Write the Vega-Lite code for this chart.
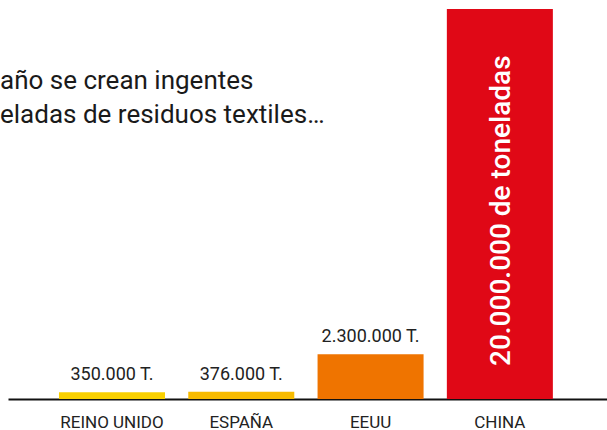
{
  "$schema": "https://vega.github.io/schema/vega-lite/v6.json",
  "width": 599,
  "height": 390,
  "autosize": {"type": "none"},
  "padding": {"left": 8, "right": 0, "top": 9, "bottom": 31},
  "background": "white",
  "config": {"view": {"stroke": null}, "font": "Roboto"},
  "data": {
    "values": [
      {"pais": "REINO UNIDO", "toneladas": 350000, "etiqueta": "350.000 T."},
      {"pais": "ESPAÑA", "toneladas": 376000, "etiqueta": "376.000 T."},
      {"pais": "EEUU", "toneladas": 2300000, "etiqueta": "2.300.000 T."},
      {"pais": "CHINA", "toneladas": 20000000, "etiqueta": "20.000.000 de toneladas"}
    ]
  },
  "encoding": {
    "x": {
      "field": "pais",
      "type": "nominal",
      "sort": null,
      "scale": {"domain": ["REINO UNIDO", "ESPAÑA", "EEUU", "CHINA"], "paddingInner": 0.18, "paddingOuter": 0.4065, "align": 0.485},
      "axis": {
        "title": null,
        "ticks": false,
        "grid": false,
        "labelAngle": 0,
        "labelFontSize": 17,
        "labelColor": "#222222",
        "labelPadding": 15,
        "labelFont": "Roboto",
        "domainColor": "#111111",
        "domainWidth": 2
      }
    }
  },
  "layer": [
    {
      "mark": {"type": "bar"},
      "encoding": {
        "y": {"field": "toneladas", "type": "quantitative", "scale": {"domain": [0, 20000000], "nice": false}, "axis": null},
        "color": {
          "field": "pais",
          "type": "nominal",
          "scale": {"domain": ["REINO UNIDO", "ESPAÑA", "EEUU", "CHINA"], "range": ["#f9d000", "#f7bb00", "#ef7400", "#e00816"]},
          "legend": null
        }
      }
    },
    {
      "transform": [{"filter": "datum.pais !== 'CHINA'"}],
      "mark": {"type": "text", "baseline": "alphabetic", "dy": -12, "fontSize": 18, "color": "#222222", "font": "Roboto"},
      "encoding": {
        "y": {"field": "toneladas", "type": "quantitative"},
        "text": {"field": "etiqueta", "type": "nominal"}
      }
    },
    {
      "transform": [{"filter": "datum.pais === 'CHINA'"}],
      "mark": {"type": "text", "angle": 270, "align": "left", "baseline": "middle", "dx": 33, "dy": 2, "fontSize": 28, "fontWeight": 500, "color": "white", "font": "Roboto"},
      "encoding": {
        "y": {"datum": 0, "type": "quantitative"},
        "text": {"field": "etiqueta", "type": "nominal"}
      }
    },
    {
      "data": {"values": [{"texto": "año se crean ingentes\neladas de residuos textiles…", "pais": "REINO UNIDO"}]},
      "mark": {"type": "text", "align": "left", "baseline": "alphabetic", "dx": -112, "fontSize": 26, "lineHeight": 34, "lineBreak": "\n", "color": "#1a1a1a", "font": "Roboto"},
      "encoding": {
        "y": {"datum": 15900000, "type": "quantitative"},
        "text": {"field": "texto", "type": "nominal"}
      }
    }
  ]
}
